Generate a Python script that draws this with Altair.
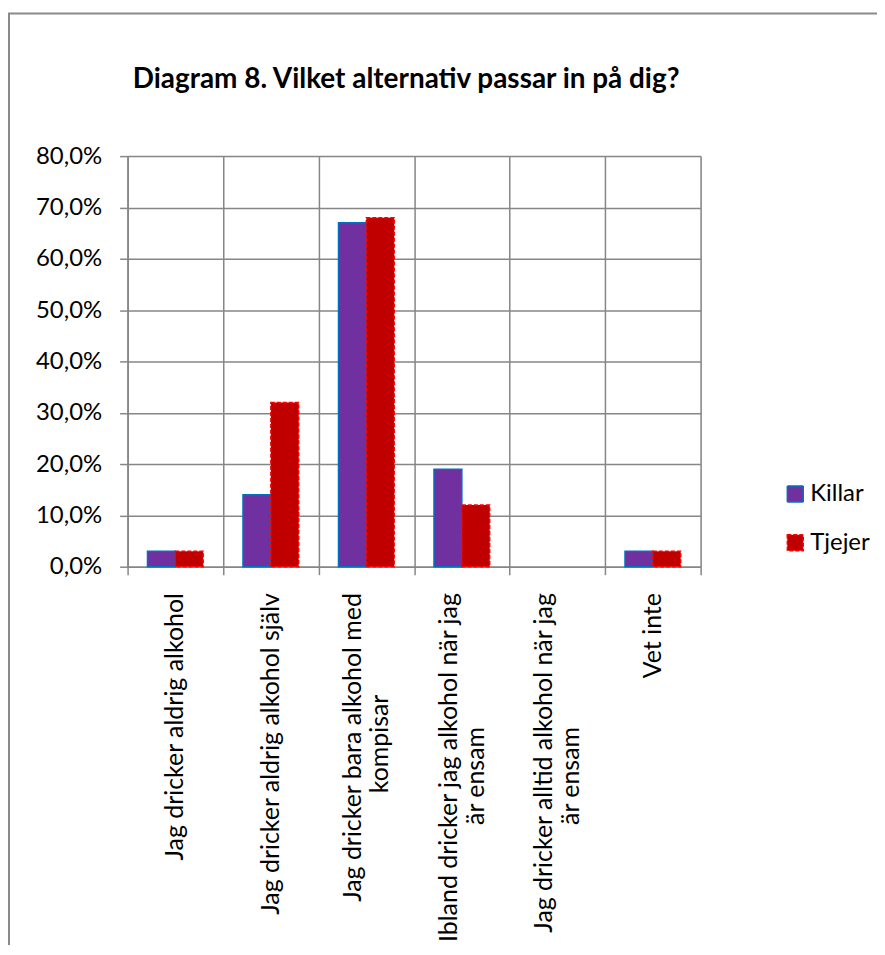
import altair as alt
import pandas as pd

title_text = "Diagram 8. Vilket alternativ passar in på dig?"
categories = [
    "Jag dricker aldrig alkohol",
    "Jag dricker aldrig alkohol själv",
    "Jag dricker bara alkohol med\nkompisar",
    "Ibland dricker jag alkohol när jag\när ensam",
    "Jag dricker alltid alkohol när jag\när ensam",
    "Vet inte",
]
series = ["Killar", "Tjejer"]
killar = [0.03, 0.14, 0.67, 0.19, 0.0, 0.03]
tjejer = [0.03, 0.32, 0.68, 0.12, 0.0, 0.03]
y_ticks = [0.0, 0.1, 0.2, 0.3, 0.4, 0.5, 0.6, 0.7, 0.8]

rows = []
for c, k, t in zip(categories, killar, tjejer):
    rows.append({"kategori": c, "serie": series[0], "andel": k})
    rows.append({"kategori": c, "serie": series[1], "andel": t})
df = pd.DataFrame(rows)

FONT = "Lato"
GRID = "#868686"
NB = "\u00a0"
ZW = "\u200b"

# second line of a wrapped label is centred under the first one by padding
L0 = "split(datum.label, '\\n')[0]"
L1 = "split(datum.label, '\\n')[1]"
label_expr = (
    "length(split(datum.label, '\\n')) > 1 ? "
    f"[{L0}, pad({L1}, length({L1}) + round((length({L0}) - length({L1})) * 0.8), '{NB}') + '{ZW}'] "
    ": datum.label"
)

bars = (
    alt.Chart(df)
    .transform_filter("datum.andel > 0")
    .mark_bar(strokeWidth=1.5)
    .encode(
        x=alt.X(
            "kategori:N",
            sort=categories,
            scale=alt.Scale(domain=categories, paddingInner=0, paddingOuter=0),
            axis=alt.Axis(
                title=None,
                orient="bottom",
                domain=False,
                ticks=False,
                tickSize=0,
                grid=False,
                labelAngle=-90,
                labelAlign="right",
                labelBaseline="middle",
                labelPadding=26,
                labelOffset={
                    "condition": {"test": "indexof(datum.value, '\\n') >= 0", "value": -13},
                    "value": 0,
                },
                labelFont=FONT,
                labelFontSize=25,
                labelColor="#000000",
                labelLimit=1000,
                labelLineHeight=27,
                labelOverlap=False,
                labelExpr=label_expr,
            ),
        ),
        xOffset=alt.XOffset(
            "serie:N",
            sort=series,
            scale=alt.Scale(domain=series, paddingOuter=0.714, paddingInner=0),
        ),
        y=alt.Y(
            "andel:Q",
            scale=alt.Scale(domain=[0, 0.8], nice=False),
            axis=alt.Axis(
                title=None,
                values=y_ticks,
                grid=True,
                gridColor=GRID,
                gridWidth=1.5,
                domainColor=GRID,
                domainWidth=1.5,
                tickColor=GRID,
                tickWidth=1.5,
                tickSize=8,
                labelPadding=18,
                labelFont=FONT,
                labelFontSize=24,
                labelColor="#000000",
                labelExpr="replace(format(datum.value, '.1%'), '.', ',')",
            ),
        ),
        fill=alt.Fill(
            "serie:N",
            sort=series,
            scale=alt.Scale(domain=series, range=["#7030A0", "#C00000"]),
            legend=alt.Legend(
                title=None,
                orient="none",
                legendX=658,
                legendY=327,
                symbolType="square",
                symbolSize=256,
                symbolStrokeWidth=1.5,
                labelFont=FONT,
                labelFontSize=24,
                labelColor="#000000",
                labelOffset=3,
                rowPadding=25,
                padding=0,
            ),
        ),
        stroke=alt.Stroke(
            "serie:N",
            sort=series,
            scale=alt.Scale(domain=series, range=["#0070C0", "#FF0000"]),
            legend=alt.Legend(title=None),
        ),
        strokeDash=alt.StrokeDash(
            "serie:N",
            sort=series,
            scale=alt.Scale(domain=series, range=[[1, 0], [4, 2]]),
            legend=alt.Legend(title=None),
        ),
    )
)

boundaries = list(range(len(categories) + 1))

grid_layer = (
    alt.Chart(df)
    .mark_point(opacity=0)
    .encode(
        x=alt.X(
            datum=0,
            type="quantitative",
            scale=alt.Scale(domain=[0, len(categories)], nice=False, zero=False),
            axis=alt.Axis(
                title=None,
                orient="bottom",
                values=boundaries,
                labels=False,
                grid=True,
                gridColor=GRID,
                gridWidth=1.5,
                domainColor=GRID,
                domainWidth=1.5,
                tickColor=GRID,
                tickWidth=1.5,
                tickSize=8,
            ),
        )
    )
)

frame = (
    alt.Chart(alt.Data(values=[{}]))
    .mark_rect(fill=None, stroke="#8a8a8a", strokeWidth=2)
    .encode(
        x=alt.value(-119),
        x2=alt.value(1200),
        y=alt.value(-143),
        y2=alt.value(1200),
    )
)

chart = (
    alt.layer(frame, grid_layer, bars)
    .resolve_scale(x="independent")
    .properties(
        width=575,
        height=412,
        autosize=alt.AutoSizeParams(type="none"),
        padding={"left": 120, "top": 147, "right": 177, "bottom": 378},
        title=alt.TitleParams(
            title_text,
            font=FONT,
            fontSize=28,
            fontWeight="bold",
            color="#000000",
            anchor="middle",
            frame="group",
            baseline="alphabetic",
            dx=-8,
            offset=-104,
        ),
    )
    .configure_view(stroke=None)
    .configure(background="white")
)

chart.save("out.html", embed_options={"renderer": "svg", "actions": False})
